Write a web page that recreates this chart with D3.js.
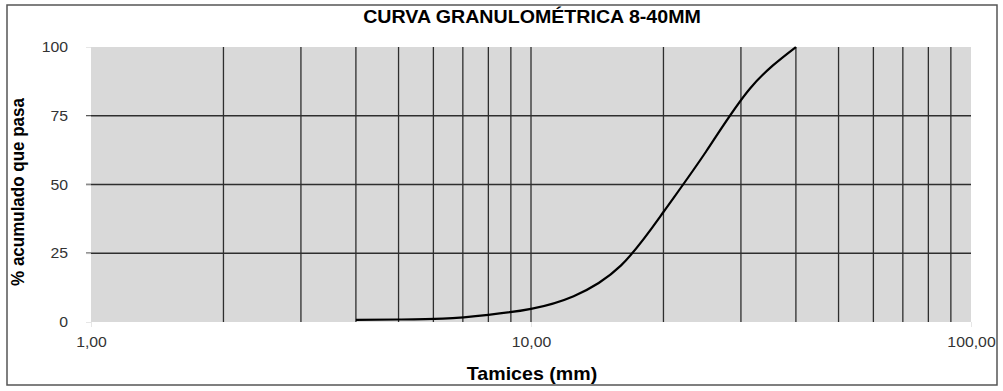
<!DOCTYPE html>
<html>
<head>
<meta charset="utf-8">
<script src="https://cdn.jsdelivr.net/npm/d3@7"></script>
<style>
  body { margin: 0; background: #fff; }
  text { font-family: 'Liberation Sans', Arial, sans-serif; }
</style>
</head>
<body>
<svg id="chart" width="1003" height="391"></svg>
<script>
const sieves = [4, 5, 6.3, 8, 10, 12.5, 16, 20, 25, 31.5, 40]
const passing = [0.8, 0.9, 1.2, 2.6, 4.8, 9.4, 20.5, 40, 62, 85, 100]
const yTicks = [0, 25, 50, 75, 100]
const xLabels = [1, 10, 100]
const minorX = [2, 3, 4, 5, 6, 7, 8, 9, 10, 20, 30, 40, 50, 60, 70, 80, 90]

const svg = d3.select('#chart')
const padLeft = 91, padRight = 971, padTop = 47, padBottom = 322
const gridColor = '#2e2e2e'
const stretch = 1.09 // source image is a bit wider than tall

const x = d3.scaleLog().domain([1, 100]).range([padLeft, padRight])
const y = d3.scaleLinear().domain([0, 100]).range([padBottom, padTop])

// outer frame
svg.append('rect')
  .attr('x', 7).attr('y', 5)
  .attr('width', 990).attr('height', 380)
  .attr('fill', '#fff')
  .attr('stroke', '#555')
  .attr('stroke-width', 1.5)

// plot area
svg.append('rect')
  .attr('x', padLeft).attr('y', padTop)
  .attr('width', padRight - padLeft).attr('height', padBottom - padTop)
  .attr('fill', '#d9d9d9')

// vertical grid
svg.append('g')
  .selectAll('line')
  .data(minorX)
  .enter()
  .append('line')
    .attr('x1', d => x(d)).attr('x2', d => x(d))
    .attr('y1', padTop).attr('y2', padBottom)
    .attr('stroke', gridColor)
    .attr('stroke-width', 1.3)

// horizontal grid
svg.append('g')
  .selectAll('line')
  .data(yTicks.filter(d => d > 0 && d < 100))
  .enter()
  .append('line')
    .attr('x1', padLeft - 5).attr('x2', padRight)
    .attr('y1', d => y(d)).attr('y2', d => y(d))
    .attr('stroke', gridColor)
    .attr('stroke-width', 1.3)

// y axis
const yAxis = svg.append('g')
  .attr('transform', `translate(${padLeft}, 0)`)
  .call(d3.axisLeft(y).tickValues(yTicks).tickSize(5).tickPadding(16))
yAxis.select('.domain').remove()
yAxis.selectAll('.tick line').attr('stroke', '#e6e6e6')
yAxis.selectAll('.tick text')
  .attr('fill', '#333')
  .attr('transform', `scale(${stretch},1)`)
  .style('font-size', '14.5px')

// x axis
const xAxis = svg.append('g')
  .attr('transform', `translate(0, ${padBottom})`)
  .call(d3.axisBottom(x).tickValues(xLabels).tickSize(5).tickPadding(10)
    .tickFormat(d => d3.format('.2f')(d).replace('.', ',')))
xAxis.select('.domain').remove()
xAxis.selectAll('.tick line').attr('stroke', '#e6e6e6')
xAxis.selectAll('.tick text')
  .attr('fill', '#333')
  .attr('transform', `scale(${stretch},1)`)
  .style('font-size', '14.5px')

// curve
const line = d3.line()
  .x((d, i) => x(sieves[i]))
  .y(d => y(d))
  .curve(d3.curveNatural)

svg.append('path')
  .datum(passing)
  .attr('d', line)
  .attr('fill', 'none')
  .attr('stroke', '#000')
  .attr('stroke-width', 2.2)

// titles
svg.append('text')
  .attr('transform', `translate(532, 23) scale(${stretch},1)`)
  .attr('text-anchor', 'middle')
  .attr('font-weight', 'bold')
  .attr('font-size', '18px')
  .text('CURVA GRANULOMÉTRICA 8-40MM')

svg.append('text')
  .attr('transform', `translate(532, 380) scale(${stretch},1)`)
  .attr('text-anchor', 'middle')
  .attr('font-weight', 'bold')
  .attr('font-size', '18px')
  .text('Tamices (mm)')

svg.append('text')
  .attr('transform', `translate(24, 192) scale(${stretch},1) rotate(-90)`)
  .attr('text-anchor', 'middle')
  .attr('font-weight', 'bold')
  .attr('font-size', '17px')
  .text('% acumulado que pasa')
</script>
</body>
</html>
